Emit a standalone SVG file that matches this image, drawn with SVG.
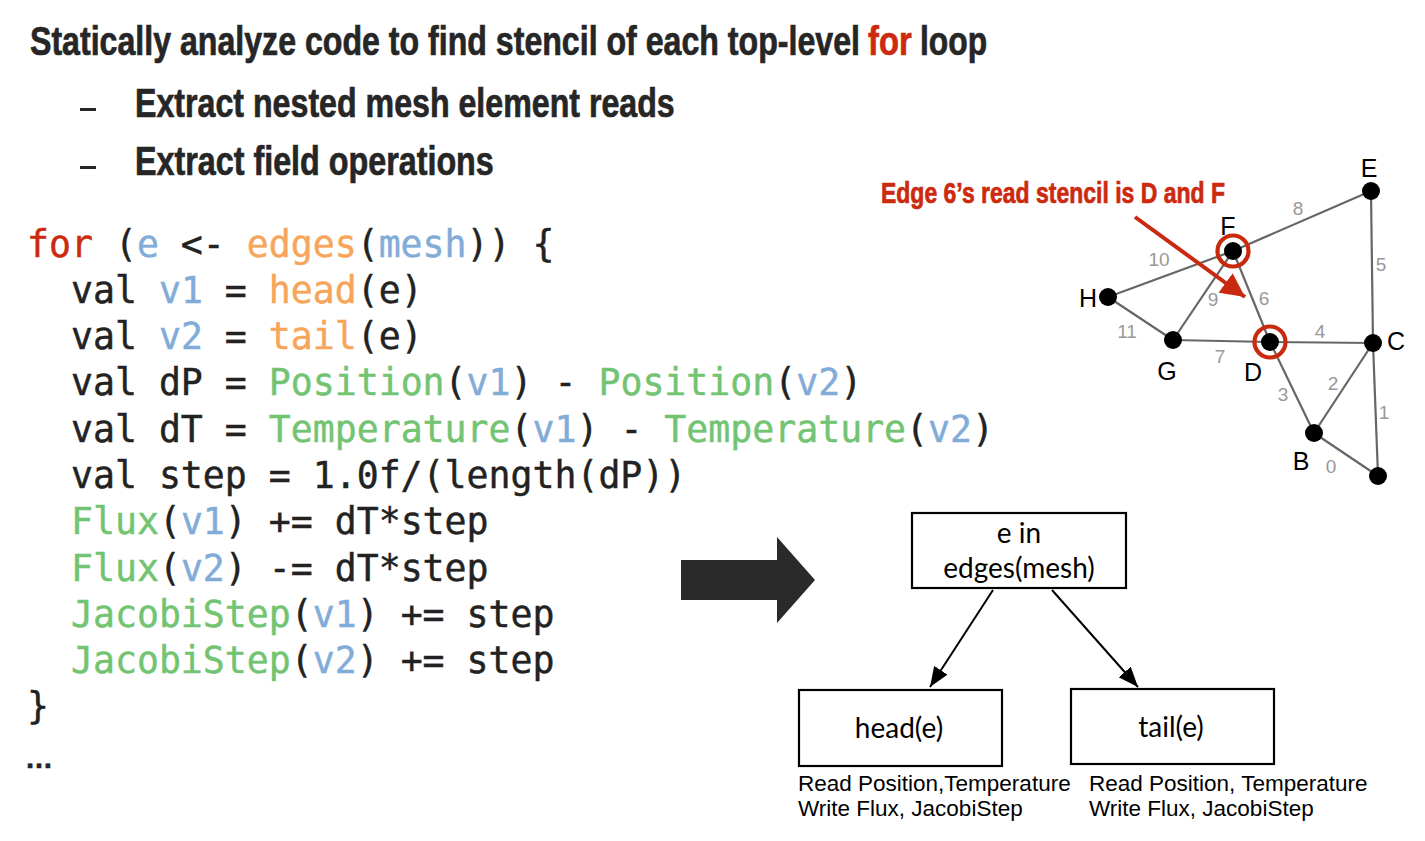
<svg xmlns="http://www.w3.org/2000/svg" width="1425" height="841" viewBox="0 0 1425 841">
<defs>
<style>
.title{font-family:"Liberation Sans",Arial,sans-serif;font-weight:bold;fill:#262626;stroke:#262626;stroke-width:0.7;}
.red{fill:#cc2a0e;stroke:#cc2a0e;}
.code{font-family:"DejaVu Sans Mono","Liberation Mono",monospace;font-size:36.5px;fill:#222;stroke:#222;stroke-width:0.45;white-space:pre;}
.kw{fill:#cc2a0e;stroke:#cc2a0e;}
.bl{fill:#82acd8;stroke:#82acd8;}
.or{fill:#f7a55a;stroke:#f7a55a;}
.gr{fill:#72c472;stroke:#72c472;}
.box{fill:#fff;stroke:#000;stroke-width:2.2;}
.boxt{font-family:Lato,"Open Sans",sans-serif;font-size:28px;fill:#000;text-anchor:middle;}
.cap{font-family:"Liberation Sans",Arial,sans-serif;font-size:22.5px;fill:#000;}
.edge{stroke:#666;stroke-width:2.2;}
.dot{fill:#000;}
.nl{font-family:"Liberation Sans",Arial,sans-serif;font-size:25px;fill:#000;text-anchor:middle;}
.el{font-family:"Liberation Sans",Arial,sans-serif;font-size:19px;fill:#999;text-anchor:middle;}
.ring{fill:none;stroke:#c8290f;stroke-width:4.2;}
</style>
<marker id="ah" viewBox="0 0 20 16" refX="20" refY="8" markerWidth="20" markerHeight="16" markerUnits="userSpaceOnUse" orient="auto"><path d="M0,0 L20,8 L0,16 z" fill="#000"/></marker>
<marker id="rh" viewBox="0 0 10 10" refX="10" refY="5" markerWidth="6" markerHeight="6" orient="auto"><path d="M0,0 L10,5 L0,10 z" fill="#c8290f"/></marker>
</defs>
<rect width="1425" height="841" fill="#fff"/>

<g id="heading">
<text class="title" transform="translate(30,55) scale(0.78,1)" font-size="40" textLength="1064" lengthAdjust="spacingAndGlyphs">Statically analyze code to find stencil of each top-level</text>
<text class="title red" transform="translate(868,55) scale(0.78,1)" font-size="40" textLength="56" lengthAdjust="spacingAndGlyphs">for</text>
<text class="title" transform="translate(920,55) scale(0.78,1)" font-size="40" textLength="86" lengthAdjust="spacingAndGlyphs">loop</text>
<rect x="80" y="108" width="16" height="3" fill="#262626"/>
<text class="title" transform="translate(135,117) scale(0.78,1)" font-size="41" textLength="692" lengthAdjust="spacingAndGlyphs">Extract nested mesh element reads</text>
<rect x="80" y="166" width="16" height="3" fill="#262626"/>
<text class="title" transform="translate(135,175) scale(0.78,1)" font-size="41" textLength="460" lengthAdjust="spacingAndGlyphs">Extract field operations</text>
</g>

<g id="code">
<text class="code" x="27" y="257"><tspan class="kw">for</tspan> (<tspan class="bl">e</tspan> &lt;- <tspan class="or">edges</tspan>(<tspan class="bl">mesh</tspan>)) {</text>
<text class="code" x="71" y="303">val <tspan class="bl">v1</tspan> = <tspan class="or">head</tspan>(e)</text>
<text class="code" x="71" y="349">val <tspan class="bl">v2</tspan> = <tspan class="or">tail</tspan>(e)</text>
<text class="code" x="71" y="395">val dP = <tspan class="gr">Position</tspan>(<tspan class="bl">v1</tspan>) - <tspan class="gr">Position</tspan>(<tspan class="bl">v2</tspan>)</text>
<text class="code" x="71" y="442">val dT = <tspan class="gr">Temperature</tspan>(<tspan class="bl">v1</tspan>) - <tspan class="gr">Temperature</tspan>(<tspan class="bl">v2</tspan>)</text>
<text class="code" x="71" y="488">val step = 1.0f/(length(dP))</text>
<text class="code" x="71" y="534"><tspan class="gr">Flux</tspan>(<tspan class="bl">v1</tspan>) += dT*step</text>
<text class="code" x="71" y="581"><tspan class="gr">Flux</tspan>(<tspan class="bl">v2</tspan>) -= dT*step</text>
<text class="code" x="71" y="627"><tspan class="gr">JacobiStep</tspan>(<tspan class="bl">v1</tspan>) += step</text>
<text class="code" x="71" y="673"><tspan class="gr">JacobiStep</tspan>(<tspan class="bl">v2</tspan>) += step</text>
<text class="code" x="27" y="719">}</text>
<text class="title" x="25" y="768" font-size="28">…</text>
</g>

<g id="big-arrow">
<polygon points="681,560 777,560 777,537 815,580 777,623 777,600 681,600" fill="#2a2a2a"/>
</g>

<g id="connectors">
<line x1="993" y1="590" x2="930" y2="687" stroke="#000" stroke-width="2" marker-end="url(#ah)"/>
<line x1="1052" y1="590" x2="1138" y2="687" stroke="#000" stroke-width="2" marker-end="url(#ah)"/>
</g>

<g id="node-loop">
<rect class="box" x="912" y="513" width="214" height="75"/>
<text class="boxt" x="1019" y="543">e in</text>
<text class="boxt" x="1019" y="578">edges(mesh)</text>
</g>
<g id="node-head">
<rect class="box" x="799" y="690" width="203" height="76"/>
<text class="boxt" x="899" y="738">head(e)</text>
<text class="cap" x="798" y="791">Read Position,Temperature</text>
<text class="cap" x="798" y="816">Write Flux, JacobiStep</text>
</g>
<g id="node-tail">
<rect class="box" x="1071" y="689" width="203" height="75"/>
<text class="boxt" x="1171" y="737">tail(e)</text>
<text class="cap" x="1089" y="791">Read Position, Temperature</text>
<text class="cap" x="1089" y="816">Write Flux, JacobiStep</text>
</g>

<g id="mesh-edges">
<line class="edge" x1="1314" y1="433" x2="1378" y2="476"/>
<line class="edge" x1="1373" y1="343" x2="1378" y2="476"/>
<line class="edge" x1="1314" y1="433" x2="1373" y2="343"/>
<line class="edge" x1="1270" y1="342" x2="1314" y2="433"/>
<line class="edge" x1="1270" y1="342" x2="1373" y2="343"/>
<line class="edge" x1="1371" y1="191" x2="1373" y2="343"/>
<line class="edge" x1="1233" y1="251" x2="1270" y2="342"/>
<line class="edge" x1="1173" y1="340" x2="1270" y2="342"/>
<line class="edge" x1="1233" y1="251" x2="1371" y2="191"/>
<line class="edge" x1="1233" y1="251" x2="1173" y2="340"/>
<line class="edge" x1="1108" y1="297" x2="1233" y2="251"/>
<line class="edge" x1="1108" y1="297" x2="1173" y2="340"/>
</g>
<g id="edge-labels">
<text class="el" x="1331" y="473">0</text>
<text class="el" x="1384" y="419">1</text>
<text class="el" x="1333" y="390">2</text>
<text class="el" x="1283" y="401">3</text>
<text class="el" x="1320" y="338">4</text>
<text class="el" x="1381" y="271">5</text>
<text class="el" x="1264" y="305">6</text>
<text class="el" x="1220" y="363">7</text>
<text class="el" x="1298" y="215">8</text>
<text class="el" x="1213" y="306">9</text>
<text class="el" x="1159" y="266">10</text>
<text class="el" x="1127" y="338">11</text>
</g>
<g id="node-A"><circle class="dot" cx="1378" cy="476" r="9"/></g>
<g id="node-B"><circle class="dot" cx="1314" cy="433" r="9"/><text class="nl" x="1301" y="470">B</text></g>
<g id="node-C"><circle class="dot" cx="1373" cy="343" r="9"/><text class="nl" x="1396" y="350">C</text></g>
<g id="node-D"><circle class="dot" cx="1270" cy="342" r="9"/><circle class="ring" cx="1270" cy="342" r="15.5"/><text class="nl" x="1253" y="381">D</text></g>
<g id="node-E"><circle class="dot" cx="1371" cy="191" r="9"/><text class="nl" x="1369" y="177">E</text></g>
<g id="node-F"><circle class="dot" cx="1233" cy="251" r="9"/><circle class="ring" cx="1233" cy="251" r="15.5"/><text class="nl" x="1228" y="235">F</text></g>
<g id="node-G"><circle class="dot" cx="1173" cy="340" r="9"/><text class="nl" x="1167" y="380">G</text></g>
<g id="node-H"><circle class="dot" cx="1108" cy="297" r="9"/><text class="nl" x="1088" y="307">H</text></g>

<g id="callout">
<text class="title red" transform="translate(881,203) scale(0.78,1)" font-size="29" textLength="441" lengthAdjust="spacingAndGlyphs">Edge 6’s read stencil is D and F</text>
<line x1="1135" y1="217" x2="1245" y2="297" stroke="#c8290f" stroke-width="4" marker-end="url(#rh)"/>
</g>
</svg>
